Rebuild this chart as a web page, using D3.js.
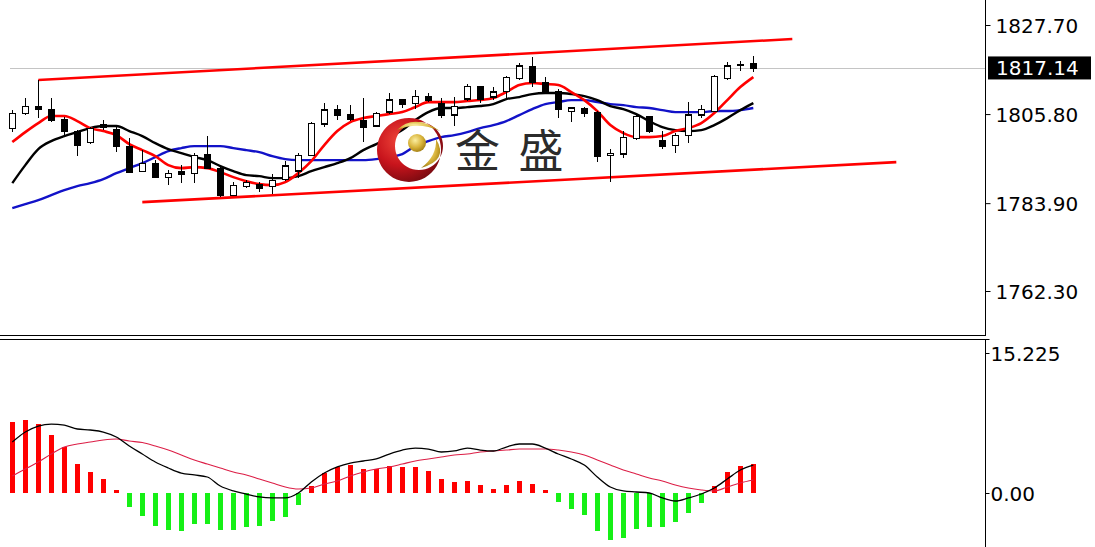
<!DOCTYPE html>
<html><head><meta charset="utf-8">
<script src="https://cdn.jsdelivr.net/npm/d3@7"></script>
<style>html,body{margin:0;padding:0;background:#fff;overflow:hidden}svg{display:block}</style>
</head><body><svg id="chart" width="1095" height="547"></svg>
<script>
// ---------- data ----------
const opens = [1802.28,1805.97,1807.60,1806.96,1804.32,1801.45,1798.74,1802.60,1801.86,1797.75,
 1791.60,1793.67,1790.30,1791.60,1791.21,1795.88,1792.44,1785.87,1788.08,1788.45,
 1788.08,1789.81,1791.78,1795.71,1803.34,1806.78,1805.73,1804.20,1802.85,1806.29,
 1809.25,1808.43,1810.06,1808.43,1805.55,1809.49,1812.57,1809.98,1811.29,1814.58,
 1817.49,1813.60,1811.21,1806.46,1807.20,1806.05,1795.54,1795.96,1799.82,1805.14,
 1799.40,1798.17,1800.63,1805.55,1806.37,1814.58,1817.86,1818.10];
const highs = [1806.78,1809.66,1814.17,1809.66,1805.14,1801.86,1802.60,1804.32,1802.53,1799.82,
 1796.94,1794.48,1792.02,1793.25,1796.13,1800.39,1792.83,1789.14,1789.56,1789.07,
 1791.04,1794.24,1796.20,1803.91,1808.43,1808.02,1808.02,1809.66,1806.29,1810.89,
 1809.49,1811.71,1811.09,1809.66,1809.98,1813.18,1812.69,1812.44,1815.15,1818.35,
 1819.90,1814.98,1811.95,1807.35,1807.60,1806.66,1797.19,1801.62,1805.55,1805.31,
 1801.69,1801.05,1808.83,1808.02,1815.40,1818.67,1818.92,1820.07];
const lows = [1801.45,1805.55,1804.82,1803.91,1800.63,1795.47,1798.42,1801.86,1796.52,1791.28,
 1791.53,1790.05,1788.33,1788.75,1788.95,1792.39,1785.45,1785.70,1787.52,1786.68,
 1786.12,1789.31,1790.05,1795.47,1802.68,1804.32,1804.20,1798.98,1802.60,1805.92,
 1807.20,1807.03,1808.75,1804.74,1802.85,1809.12,1808.51,1809.25,1809.25,1814.17,
 1812.52,1810.89,1804.74,1803.91,1805.14,1794.06,1789.14,1794.97,1799.40,1801.13,
 1797.11,1796.13,1798.59,1804.74,1806.29,1814.17,1816.46,1816.21];
const closes = [1805.97,1807.60,1806.96,1804.25,1801.45,1798.17,1802.28,1803.09,1797.75,1791.46,
 1793.67,1790.18,1791.21,1791.04,1795.71,1792.44,1785.75,1788.21,1788.99,1787.64,
 1789.44,1793.01,1795.71,1803.51,1806.78,1805.55,1804.57,1802.48,1805.97,1809.25,
 1808.26,1810.06,1809.25,1805.55,1807.60,1812.52,1809.49,1811.21,1814.78,1817.61,
 1813.67,1811.29,1807.03,1807.28,1805.87,1795.47,1796.20,1799.97,1805.14,1801.45,
 1797.93,1800.63,1805.55,1806.96,1814.98,1817.61,1817.98,1817.14];

const maFast = [1798.91,1801.37,1803.59,1805.31,1805.31,1804.08,1802.35,1801.62,1800.63,1798.42,
 1796.94,1795.46,1793.25,1792.51,1792.76,1792.51,1791.53,1790.30,1789.31,1788.57,
 1788.33,1789.07,1791.28,1794.23,1798.17,1801.62,1803.83,1804.81,1805.31,1805.80,
 1806.29,1807.52,1808.75,1808.75,1808.75,1809.00,1809.24,1809.74,1811.21,1812.93,
 1813.43,1813.18,1812.93,1811.21,1809.24,1806.54,1803.09,1801.12,1800.14,1800.14,
 1800.39,1801.62,1802.35,1803.59,1806.05,1809.24,1812.44,1814.90];
const maMid = [1788.82,1793.25,1797.19,1799.16,1800.39,1801.37,1802.35,1802.85,1802.85,1801.62,
 1800.39,1798.66,1797.19,1796.20,1795.22,1794.48,1793.00,1791.77,1790.79,1790.54,
 1790.05,1790.05,1790.54,1791.77,1792.76,1793.74,1794.97,1796.94,1798.42,1800.14,
 1801.86,1804.32,1806.29,1807.28,1807.28,1807.52,1807.77,1808.26,1809.49,1809.98,
 1810.72,1810.97,1810.97,1810.72,1810.23,1809.24,1807.77,1807.03,1805.80,1804.08,
 1802.60,1801.86,1801.62,1801.86,1803.09,1804.81,1806.78,1808.51];
const maSlow = [1782.67,1783.65,1784.64,1785.87,1787.10,1788.08,1788.82,1789.81,1791.28,1792.51,
 1793.74,1795.22,1796.69,1797.43,1797.93,1797.93,1797.93,1797.43,1796.94,1796.45,
 1795.46,1794.73,1794.48,1794.48,1794.48,1794.48,1794.48,1794.48,1794.73,1795.22,
 1795.96,1797.93,1799.16,1800.14,1800.63,1801.37,1802.35,1803.09,1804.08,1805.55,
 1807.03,1808.26,1808.75,1809.24,1809.24,1808.75,1808.26,1808.01,1807.52,1807.28,
 1806.78,1806.29,1806.29,1806.29,1806.54,1806.54,1806.78,1807.28];

const macdLine = [5.54,6.63,7.28,7.5,7.39,6.96,6.85,6.63,6.09,5.11,
 4.24,3.37,2.72,2.17,1.96,1.74,0.76,0.22,-0.11,-0.43,
 -0.54,-0.54,0,1.2,2.17,2.83,3.26,3.48,3.7,4.24,
 4.67,4.89,4.78,4.46,4.57,4.89,4.67,4.57,5.0,5.33,
 5.33,4.89,4.24,3.7,3.04,1.74,0.65,0.22,0.11,0,
 -0.54,-0.87,-0.54,-0.11,0.54,1.52,2.5,3.04];
const signalLine = [1.85,2.61,3.37,4.24,5.0,5.33,5.54,5.76,5.87,5.65,
 5.49,5.11,4.67,4.13,3.59,3.15,2.72,2.28,1.96,1.52,
 1.09,0.65,0.43,0.54,0.98,1.3,1.85,2.28,2.61,2.83,
 3.15,3.48,3.7,3.91,4.13,4.24,4.46,4.57,4.67,4.78,
 4.78,4.78,4.67,4.46,4.13,3.59,3.04,2.5,2.07,1.63,
 1.3,0.87,0.54,0.33,0.22,0.65,1.09,1.41];
const histogram = [7.7,7.97,7.5,6.34,4.97,3.1,2.25,1.52,0.33,-1.56,
 -2.46,-3.55,-3.99,-4.1,-3.37,-3.37,-4.02,-4.02,-3.73,-3.6,
 -3.0,-2.57,-1.3,0.73,2.17,2.86,3.08,2.6,2.6,2.9,
 2.79,2.79,2.36,1.49,1.16,1.3,0.87,0.43,0.87,1.3,
 1.01,0.29,-1.01,-1.74,-2.36,-4.1,-5.07,-4.93,-3.91,-3.66,
 -3.73,-3.19,-2.17,-1.12,0.73,2.25,2.93,3.12];

const priceTicks = [1827.70, 1805.80, 1783.90, 1762.30];
const macdTicks = [15.225, 0.00];
const macdTickLabels = ["15.225", "0.00"];
const lastPrice = 1817.14;
const upperChannel = [[2, 1814.17], [60, 1824.25]];   // [bar index, price]
const lowerChannel = [[10, 1784.15], [68, 1793.99]];
const brandText = ["金", "盛"];

// ---------- layout ----------
const svg = d3.select("#chart");
const axisX = 985.5;
const n = closes.length;
const x = d3.scaleLinear().domain([0, n - 1]).range([12.3, 12.3 + 13 * (n - 1)]);
const y = d3.scaleLinear().domain([1762.3, 1827.7]).range([291, 25]);
const ym = d3.scaleLinear().domain([0, 15.225]).range([493, 353]);
const FONT = "'DejaVu Sans', Verdana, sans-serif";

const defs = svg.append("defs");
defs.append("clipPath").attr("id", "mainClip").append("rect").attr("x", 0).attr("y", 0).attr("width", axisX).attr("height", 335);
defs.append("clipPath").attr("id", "subClip").append("rect").attr("x", 0).attr("y", 340).attr("width", axisX).attr("height", 207);

const main = svg.append("g").attr("clip-path", "url(#mainClip)");
const sub = svg.append("g").attr("clip-path", "url(#subClip)");

// last price grey line
main.append("line").attr("x1", 10).attr("x2", axisX).attr("y1", Math.round(y(lastPrice)) + 0.5).attr("y2", Math.round(y(lastPrice)) + 0.5)
  .attr("stroke", "#c4c4c4").attr("stroke-width", 1);

// channel lines
const chLine = d3.line().x(d => x(d[0])).y(d => y(d[1]));
[upperChannel, lowerChannel].forEach(c => {
  main.append("path").attr("d", chLine(c)).attr("fill", "none").attr("stroke", "#ff0000").attr("stroke-width", 2.6);
});

// moving averages
const maLine = d3.line().x((d, i) => x(i)).y(d => y(d)).curve(d3.curveMonotoneX);
main.append("path").attr("d", maLine(maSlow)).attr("fill", "none").attr("stroke", "#1212c8").attr("stroke-width", 2.4);
main.append("path").attr("d", maLine(maMid)).attr("fill", "none").attr("stroke", "#000").attr("stroke-width", 2.4);
main.append("path").attr("d", maLine(maFast)).attr("fill", "none").attr("stroke", "#ff0000").attr("stroke-width", 2.6);

// candles
const bw = 6;
const cg = main.append("g").attr("shape-rendering", "crispEdges");
d3.range(n).forEach(i => {
  const cx = Math.round(x(i)) + 0.5;
  cg.append("line").attr("x1", cx).attr("x2", cx).attr("y1", y(highs[i])).attr("y2", y(lows[i])).attr("stroke", "#000").attr("stroke-width", 1.2);
  const bull = closes[i] >= opens[i];
  const top = y(Math.max(opens[i], closes[i]));
  const h = Math.max(1, Math.abs(y(opens[i]) - y(closes[i])));
  cg.append("rect").attr("x", cx - bw / 2).attr("y", top).attr("width", bw).attr("height", h)
    .attr("fill", bull ? "#fff" : "#000").attr("stroke", "#000").attr("stroke-width", 1.2);
});

// ---------- logo ----------
const lg = svg.append("g");
const rg = defs.append("radialGradient").attr("id", "redG").attr("cx", "35%").attr("cy", "35%").attr("r", "70%");
rg.append("stop").attr("offset", "0%").attr("stop-color", "#f0463a");
rg.append("stop").attr("offset", "55%").attr("stop-color", "#c8141c");
rg.append("stop").attr("offset", "100%").attr("stop-color", "#7a0a10");
const gg = defs.append("radialGradient").attr("id", "goldG").attr("cx", "40%").attr("cy", "35%").attr("r", "65%");
gg.append("stop").attr("offset", "0%").attr("stop-color", "#fbeea0");
gg.append("stop").attr("offset", "60%").attr("stop-color", "#d9b43c");
gg.append("stop").attr("offset", "100%").attr("stop-color", "#a88418");
// crescent
lg.append("path").attr("fill-rule", "evenodd").attr("fill", "url(#redG)")
  .attr("d", "M441,150 A32,32 0 1,1 441,149.9 Z M443,146 A24,24 0 1,0 443,146.1 Z");
// gold swooshes
lg.append("path").attr("fill", "url(#goldG)").attr("d", "M397,130 Q414,113 440,131 Q418,121 397,130 Z");
lg.append("path").attr("fill", "url(#goldG)").attr("d", "M436,139 Q449,160 421,168 Q437,156 436,139 Z");
lg.append("circle").attr("cx", 417).attr("cy", 143).attr("r", 9).attr("fill", "url(#goldG)");
lg.selectAll("text.brand").data(brandText).join("text").attr("class", "brand")
  .attr("x", (d, i) => 477.5 + i * 63.5).attr("y", 168).attr("text-anchor", "middle")
  .attr("font-family", "'Noto Sans CJK SC', sans-serif").attr("font-size", 45).attr("fill", "#2b2b2b")
  .text(d => d);

// ---------- MACD panel ----------
const hg = sub.append("g").attr("shape-rendering", "crispEdges");
hg.selectAll("rect").data(histogram).join("rect")
  .attr("x", (d, i) => Math.round(x(i)) - 2)
  .attr("y", d => d >= 0 ? ym(d) : ym(0))
  .attr("width", 5)
  .attr("height", d => Math.max(1, Math.abs(ym(d) - ym(0))))
  .attr("fill", d => d >= 0 ? "#ff0000" : "#16f016");
const mLine = d3.line().x((d, i) => x(i)).y(d => ym(d)).curve(d3.curveMonotoneX);
sub.append("path").attr("d", mLine(signalLine)).attr("fill", "none").attr("stroke", "#dc1e46").attr("stroke-width", 1.1);
sub.append("path").attr("d", mLine(macdLine)).attr("fill", "none").attr("stroke", "#000").attr("stroke-width", 1.3);

// ---------- axes / frame ----------
svg.append("line").attr("x1", axisX).attr("x2", axisX).attr("y1", 0).attr("y2", 336).attr("stroke", "#000");
svg.append("line").attr("x1", axisX).attr("x2", axisX).attr("y1", 339).attr("y2", 547).attr("stroke", "#000");
svg.append("line").attr("x1", 0).attr("x2", axisX).attr("y1", 335.5).attr("y2", 335.5).attr("stroke", "#000");
svg.append("line").attr("x1", 0).attr("x2", axisX + 4).attr("y1", 339.5).attr("y2", 339.5).attr("stroke", "#000");

const pAxis = d3.axisRight(y).tickValues(priceTicks).tickSize(5).tickPadding(5).tickFormat(d3.format(".2f"));
const pg = svg.append("g").attr("transform", `translate(${axisX},0)`).call(pAxis);
pg.select(".domain").remove();
pg.selectAll("text").attr("font-family", FONT).attr("font-size", 20).attr("fill", "#000").attr("dy", "0.36em");

const mAxis = d3.axisRight(ym).tickValues(macdTicks).tickSize(4).tickPadding(1).tickFormat((d, i) => macdTickLabels[i]);
const mg = svg.append("g").attr("transform", `translate(${axisX},0)`).call(mAxis);
mg.select(".domain").remove();
mg.selectAll("text").attr("font-family", FONT).attr("font-size", 20).attr("fill", "#000").attr("dy", "0.36em");

// last price label
const ly = y(lastPrice);
svg.append("rect").attr("x", 988).attr("y", ly - 11.5).attr("width", 103).attr("height", 23).attr("fill", "#000");
svg.append("text").attr("x", 996).attr("y", ly).attr("dy", "0.36em").attr("font-family", FONT).attr("font-size", 20)
  .attr("fill", "#fff").text(lastPrice.toFixed(2));
</script></body></html>
